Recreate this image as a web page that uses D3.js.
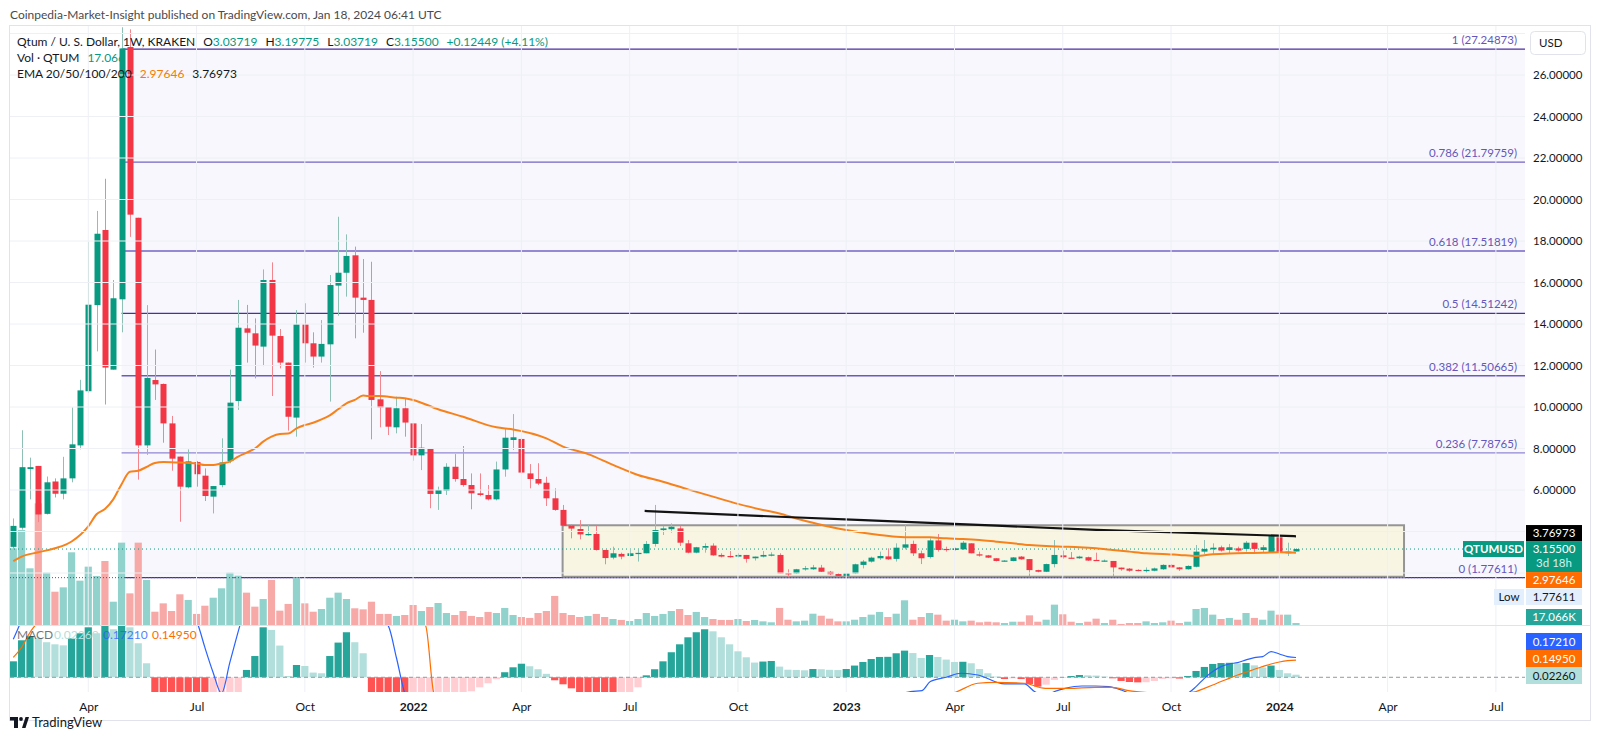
<!DOCTYPE html>
<html><head><meta charset="utf-8">
<script src="https://cdn.jsdelivr.net/npm/d3@7"></script>
<style>
html,body{margin:0;padding:0;background:#fff;}
svg{display:block;font-family:Lato,"Noto Sans",sans-serif;}
</style></head><body>
<svg id="c" width="1600" height="755"></svg>
<script>
// ---------------- DATA ----------------
const startDate = new Date(Date.UTC(2021,1,1)); // first weekly bar (Mon)
const openP = [3.26,4.18,7.01,7.16,4.85,6.41,5.82,6.56,8.15,10.76,
14.91,18.53,11.80,15.19,27.35,19.12,8.15,11.30,11.11,9.21,
7.61,6.13,7.35,6.69,5.68,6.24,7.40,10.29,13.79,13.55,
12.91,16.12,13.42,12.14,9.49,13.98,13.07,12.43,13.02,15.85,
16.47,17.31,15.27,15.16,10.37,10.0,9.02,9.94,9.21,7.67,
8.01,5.81,5.97,7.12,6.53,6.24,5.84,5.76,5.55,6.99,
8.41,8.46,6.80,6.53,6.35,5.60,5.04,4.28,4.12,3.82,
3.88,3.11,2.74,2.92,2.82,2.94,2.95,3.40,4.07,4.11,
4.15,3.43,2.98,3.22,3.32,2.87,2.82,2.79,2.87,2.71,
2.79,2.85,2.87,1.99,1.98,2.18,2.18,2.26,2.06,1.95,
1.86,1.98,2.39,2.55,2.71,2.80,2.68,3.22,3.40,2.95,
2.77,3.57,3.16,3.11,3.14,3.43,2.90,2.85,2.71,2.58,
2.58,2.79,2.67,2.14,2.06,2.43,2.85,2.74,2.71,2.76,
2.63,2.60,2.58,2.26,2.21,2.15,2.13,2.11,2.18,2.39,
2.27,2.18,2.30,3.03,3.14,3.24,3.11,3.19,3.16,3.46,
3.11,3.01,3.72,2.95,3.03719];
const highP = [4.63,8.88,7.56,7.16,6.65,6.56,7.60,9.98,11.31,17.95,
19.45,21.0,16.12,28.3,28.2,19.12,14.91,12.77,11.13,9.57,
7.61,7.96,7.40,7.04,6.19,8.49,11.8,15.16,14.92,14.27,
16.63,16.97,13.76,12.14,14.67,15.0,13.6,14.19,16.36,19.17,
18.32,17.73,17.13,17.0,11.73,10.0,10.5,10.42,9.21,9.18,
8.01,6.16,7.29,7.73,8.12,6.80,6.80,6.24,7.37,8.97,
9.66,8.50,7.25,7.29,6.64,6.08,5.28,4.35,4.55,4.31,
4.27,3.11,3.27,2.98,3.14,3.11,3.54,5.28,4.27,4.39,
4.27,3.59,3.26,3.43,3.43,2.95,3.06,2.95,2.87,2.79,
3.06,3.0,2.95,2.18,2.20,2.34,2.39,2.39,2.10,2.0,
2.0,2.45,2.63,2.79,3.03,3.19,3.43,4.31,3.56,3.08,
3.67,3.88,3.27,3.22,3.54,3.43,3.03,2.87,2.71,2.62,
2.77,2.82,2.67,2.16,2.45,3.59,3.08,3.01,2.83,2.79,
2.98,2.65,2.58,2.26,2.24,2.18,2.27,2.26,2.42,2.42,
2.29,2.37,3.35,3.59,3.43,3.32,3.40,3.27,3.54,3.46,
3.35,3.83,3.83,3.46,3.19775];
const lowP = [3.17,4.09,5.55,4.45,4.82,5.64,5.55,6.37,7.96,10.67,
12.68,10.12,11.80,13.6,18.2,6.50,7.69,10.34,8.28,6.93,
4.47,6.08,6.16,5.47,4.87,6.13,7.29,9.86,12.14,11.38,
11.97,10.53,11.86,8.86,8.57,12.14,11.9,12.14,10.26,14.40,
15.32,13.31,13.58,8.44,9.02,8.65,8.73,8.57,7.41,6.96,
5.12,5.04,5.76,6.40,6.16,5.07,5.70,5.50,5.50,6.64,
7.93,6.80,6.08,6.24,5.23,5.00,4.23,3.67,3.62,3.80,
3.08,2.42,2.66,2.66,2.80,2.55,2.95,3.27,3.83,3.94,
3.30,2.95,2.95,2.98,2.83,2.75,2.74,2.75,2.50,2.60,
2.75,2.80,1.98,1.82,1.95,2.11,2.15,2.05,1.90,1.84,
1.84,1.95,2.22,2.50,2.63,2.63,2.55,3.14,2.82,2.43,
2.70,3.03,3.03,3.08,3.11,2.95,2.79,2.72,2.56,2.55,
2.56,2.64,1.85,2.02,2.04,2.27,2.69,2.70,2.68,2.58,
2.58,2.55,1.85,2.11,2.06,2.08,2.01,2.08,2.15,2.26,
2.10,2.16,2.27,2.92,2.92,3.03,2.92,3.03,3.03,2.95,
2.98,2.98,2.71,2.82,3.03719];
const closeP = [4.27,7.10,7.10,4.82,6.37,5.82,6.56,8.20,10.80,14.93,
18.35,11.90,15.24,27.28,19.27,8.15,11.40,11.09,9.21,7.51,
6.16,7.38,6.76,5.71,6.19,7.33,10.21,13.82,13.58,12.96,
16.12,13.44,12.14,9.53,13.98,13.07,12.43,13.04,15.88,16.47,
17.28,15.27,15.16,10.34,9.98,9.05,9.94,9.25,7.67,8.04,
5.81,6.0,7.12,6.53,6.24,5.84,5.76,5.55,6.99,8.52,
8.54,6.84,6.53,6.31,5.60,5.04,4.28,4.14,3.86,3.88,
3.11,2.72,2.95,2.79,2.95,2.97,3.40,4.07,4.15,4.23,
3.46,2.98,3.24,3.30,2.85,2.79,2.76,2.87,2.68,2.79,
2.87,2.89,1.98,1.96,2.18,2.23,2.27,2.06,1.94,1.86,
1.98,2.42,2.55,2.74,2.82,2.66,3.22,3.38,2.95,2.71,
3.57,3.11,3.14,3.19,3.46,2.95,2.84,2.74,2.58,2.60,
2.75,2.66,2.14,2.06,2.43,2.87,2.76,2.71,2.79,2.60,
2.60,2.60,2.27,2.18,2.11,2.13,2.15,2.22,2.39,2.27,
2.18,2.34,3.03,3.16,3.22,3.08,3.24,3.08,3.46,3.16,
3.24,3.80,3.01,3.03,3.155];
const volumeK = [652,808,482,1034,445,283,320,618,377,496,
417,544,198,700,269,700,383,113,184,119,
261,213,94,164,232,312,445,419,275,156,
221,383,122,179,405,184,113,136,232,275,
221,142,133,198,94,94,77,85,170,119,
153,187,102,85,119,77,68,111,102,145,
85,68,60,102,119,247,102,85,68,77,
94,68,51,43,34,51,102,77,94,119,
136,85,111,68,51,43,43,51,34,43,
31,23,145,45,31,37,96,79,54,31,
31,45,68,88,111,68,96,210,45,68,
102,88,37,45,31,37,23,28,23,17,
28,28,82,28,45,173,91,28,17,28,
54,17,45,9,17,17,31,17,23,37,
17,28,136,145,88,51,60,45,102,60,
45,122,88,88,17.066];
const macdHist = [0.139,0.322,0.357,0.339,0.305,0.287,0.278,0.339,0.383,0.435,
0.383,0.452,0.418,0.487,0.435,0.296,0.122,-0.174,-0.261,-0.348,
-0.418,-0.479,-0.505,-0.522,-0.435,-0.348,-0.244,-0.139,0.064,0.185,
0.435,0.412,0.276,0.011,0.107,0.098,0.041,0.035,0.185,0.302,
0.392,0.305,0.209,-0.139,-0.218,-0.278,-0.331,-0.365,-0.348,-0.313,
-0.278,-0.244,-0.209,-0.174,-0.148,-0.122,-0.087,-0.052,-0.017,0.044,
0.087,0.118,0.096,0.070,0.030,-0.026,-0.061,-0.096,-0.131,-0.165,
-0.191,-0.218,-0.235,-0.209,-0.157,-0.087,0.017,0.070,0.139,0.218,
0.287,0.348,0.392,0.418,0.400,0.348,0.287,0.226,0.174,0.128,
0.137,0.142,0.093,0.066,0.064,0.061,0.072,0.070,0.065,0.063,
0.072,0.102,0.133,0.159,0.177,0.178,0.209,0.232,0.211,0.168,
0.194,0.177,0.154,0.133,0.135,0.122,0.072,0.035,0.006,-0.015,
-0.009,-0.015,-0.058,-0.081,-0.064,-0.023,-0.006,0.011,0.020,0.017,
0.015,0.006,-0.009,-0.032,-0.041,-0.044,-0.043,-0.032,-0.015,-0.009,
-0.011,0.011,0.055,0.090,0.116,0.124,0.126,0.119,0.124,0.104,
0.084,0.102,0.064,0.035,0.0226];
// [bar index, value]
const macdLine = [[0,0.33],[1,0.50],[2,0.70],[5,0.96],[10,1.22],[15,1.39],[19,0.87],[21,0.61],[22.2,0.45],[23,0.26],[24,0.04],[25,-0.14],[26,0.13],[27.2,0.45],[28,0.65],[32,0.78],[38,0.70],[42,0.61],[45,0.45],[46,0.17],[47,-0.14],[48,-0.26],[60,-0.35],[80,-0.26],[100,-0.22],[106,-0.157],[107.7,-0.124],[109.1,-0.116],[110.1,-0.037],[112,0],[113.8,0.035],[115.8,0.02],[119,-0.058],[121.4,-0.058],[122.6,-0.124],[124,-0.157],[125,-0.124],[126.3,-0.096],[128.3,-0.076],[129.9,-0.076],[131.5,-0.081],[133,-0.11],[134,-0.139],[137,-0.174],[140,-0.157],[141,-0.139],[142,-0.081],[143,-0.009],[144,0.05],[145,0.093],[146,0.116],[147,0.128],[148,0.151],[149,0.171],[150,0.18],[151,0.224],[152,0.203],[153,0.18],[154,0.1721]];
const signalLine = [[0,0.174],[1,0.261],[2,0.39],[2.6,0.45],[5,0.70],[10,0.96],[20,1.04],[30,0.78],[40,0.70],[48,0.52],[49.5,0.45],[50.5,-0.14],[52,-0.26],[70,-0.35],[100,-0.26],[110,-0.174],[112.8,-0.139],[115.8,-0.052],[117.8,-0.044],[121.4,-0.052],[123.9,-0.096],[126.7,-0.096],[129.9,-0.087],[131.9,-0.087],[133.9,-0.116],[137.2,-0.139],[139,-0.148],[141,-0.135],[142,-0.124],[143,-0.096],[144,-0.067],[145,-0.037],[146,-0.009],[147,0.02],[148,0.044],[149,0.07],[150,0.093],[151,0.116],[152,0.133],[153,0.145],[154,0.1495]];
const emaOrange = [[0,2.57],[1,2.79],[3,3.0],[5,3.19],[7,3.52],[9,4.25],[10,4.83],[11,5.08],[12,5.55],[13,6.28],[14,6.88],[15,6.93],[16,7.11],[17,7.30],[18,7.35],[20,7.32],[22,7.28],[23,7.2],[24,7.2],[25,7.28],[26,7.37],[27,7.61],[28,7.8],[29,8.0],[30,8.33],[31,8.57],[32,8.7],[33,8.72],[34,8.97],[35,9.13],[36,9.24],[37,9.4],[38,9.6],[39,9.89],[40,10.18],[41,10.34],[42,10.55],[43,10.52],[44,10.53],[46,10.45],[47,10.42],[48,10.34],[51,9.89],[54,9.53],[58,9.02],[60,8.92],[64,8.49],[66,8.09],[69,7.73],[72,7.21],[75,6.72],[78,6.40],[81,6.03],[84,5.68],[87,5.33],[90,5.04],[92,4.87],[94,4.63],[96,4.42],[98,4.23],[100,4.07],[102,3.94],[104,3.83],[106,3.75],[108,3.72],[110,3.72],[112,3.67],[114,3.64],[116,3.59],[118,3.51],[120,3.43],[122,3.35],[124,3.30],[126,3.27],[128,3.24],[130,3.19],[132,3.11],[134,3.03],[136,2.95],[138,2.92],[140,2.87],[142,2.82],[144,2.90],[146,2.94],[148,2.96],[150,2.97],[152,3.0],[154,2.97646]];
const emaBlack = [[75.8,4.99],[92,4.71],[110,4.42],[130,4.08],[154,3.76973]];
const fibLevels = [1,0.786,0.618,0.5,0.382,0.236,0];
const fibPrices = [27.24873,21.79759,17.51819,14.51242,11.50665,7.78765,1.77611];
const fibStartBar = 13;
const boxRange = {fromBar:65.95, toBar:166.97, top:4.30, bottom:1.82};
const priceTicks = [6,8,10,12,14,16,18,20,22,24,26];
const timeTickMonths = ["2021-04","2021-07","2021-10","2022-01","2022-04","2022-07","2022-10","2023-01","2023-04","2023-07","2023-10","2024-01","2024-04","2024-07"];
const timeTickLabels = ["Apr","Jul","Oct","2022","Apr","Jul","Oct","2023","Apr","Jul","Oct","2024","Apr","Jul"];
const lastClose = 3.155, lowPrice = 1.77611;

// ---------------- STYLES / LAYOUT ----------------
const UP="#089981", DN="#f23645", UPW="#8fc0b5", DNW="#f2858e";
const VUP="#92d2cc", VDN="#f7a9a7";
const fibColors = ["#4a2fa3","#7464c4","#7464c4","#4a2fa3","#6a59c0","#9287d2","#4a2fa3"];
const PL=10, PR=1525, PT=25, PB=625, MT=625, MB=692;
const WEEK = 7*864e5;
const n = openP.length;
const dates = openP.map((d,i)=>d3.utcWeek.offset(startDate,i));

const svg = d3.select("#c");
const x = d3.scaleTime().domain([dates[0], dates[n-1]]).range([13.3, 1296]);
const xi = i => x(new Date(+startDate + i*WEEK));
const yP = d3.scaleLinear().domain([6,26]).range([490,75]);
const yV = d3.scaleLinear().domain([0,850]).range([625,525]);
const yM = d3.scaleLinear().domain([-0.128,0.455]).range([692,625]);

const defs = svg.append("defs");
defs.append("clipPath").attr("id","cm").append("rect").attr("x",PL).attr("y",PT).attr("width",PR-PL).attr("height",PB-PT);
defs.append("clipPath").attr("id","cmacd").append("rect").attr("x",PL).attr("y",MT).attr("width",PR-PL).attr("height",MB-MT);

svg.append("rect").attr("width",1600).attr("height",755).attr("fill","#fff");

// title
svg.append("text").attr("x",10).attr("y",19).attr("font-size",12).attr("fill","#4a4a4a")
  .text("Coinpedia-Market-Insight published on TradingView.com, Jan 18, 2024 06:41 UTC");

// fib shading
const main = svg.append("g").attr("clip-path","url(#cm)");
main.append("rect").attr("x",xi(fibStartBar)).attr("y",yP(fibPrices[0])).attr("width",PR-xi(fibStartBar))
  .attr("height",yP(fibPrices[6])-yP(fibPrices[0])).attr("fill","#f7f7fd");

// time ticks
const tickDates = timeTickMonths.map(s=>{const [y,m]=s.split("-").map(Number);return d3.utcMonday.ceil(new Date(Date.UTC(y,m-1,1)));});
const grid = svg.append("g");
tickDates.forEach(d=>{
  grid.append("line").attr("x1",x(d)).attr("x2",x(d)).attr("y1",PT).attr("y2",MB).attr("stroke","#eef0f5").attr("stroke-width",1);
});
priceTicks.concat([2,4,28]).forEach(v=>{
  grid.append("line").attr("x1",PL).attr("x2",PR).attr("y1",yP(v)).attr("y2",yP(v)).attr("stroke","#eef0f5");
});

// fib lines
fibPrices.forEach((p,k)=>{
  main.append("line").attr("x1",xi(fibStartBar)).attr("x2",PR).attr("y1",yP(p)).attr("y2",yP(p))
    .attr("stroke",fibColors[k]).attr("stroke-width",1.3);
  svg.append("text").attr("x",1517).attr("y",yP(p)-5).attr("text-anchor","end").attr("font-size",11.5)
    .attr("fill","#6457bb").text(`${fibLevels[k]} (${p.toFixed(5)})`);
});

// box
main.append("rect").attr("x",xi(boxRange.fromBar)).attr("y",yP(boxRange.top))
  .attr("width",xi(boxRange.toBar)-xi(boxRange.fromBar)).attr("height",yP(boxRange.bottom)-yP(boxRange.top))
  .attr("fill","#f9f5e3").attr("stroke","#959595").attr("stroke-width",2);

// legend text (flowing segments)
const lg = svg.append("g").attr("font-size",12);
function flow(x0, y, segs){
  let cx = x0;
  segs.forEach(([txt,col,gap])=>{
    cx += gap||0;
    const t = lg.append("text").attr("x",cx).attr("y",y).attr("fill",col).text(txt);
    cx += t.node().getComputedTextLength();
  });
}
const DK="#131722";
flow(17,45.5,[["Qtum / U. S. Dollar, 1W, KRAKEN",DK],["O",DK,8],["3.03719",UP],["H",DK,8],["3.19775",UP],["L",DK,8],["3.03719",UP],["C",DK,8],["3.15500",UP],["+0.12449 (+4.11%)",UP,8]]);
flow(17,62,[["Vol · QTUM",DK],["17.066",UP,8]]);
flow(17,78,[["EMA 20/50/100/200",DK],["2.97646","#f57c00",8],["3.76973",DK,8]]);

// volume
const idx = d3.range(n);
main.append("g").selectAll("rect").data(idx).join("rect")
  .attr("x",i=>x(dates[i])-3.6).attr("width",7.2)
  .attr("y",i=>yV(volumeK[i])).attr("height",i=>yV(0)-yV(volumeK[i]))
  .attr("fill",i=>closeP[i]>=openP[i]?VUP:VDN);

// dotted lines
main.append("line").attr("x1",PL).attr("x2",PR).attr("y1",yP(lowPrice)).attr("y2",yP(lowPrice))
  .attr("stroke","#5a4a9a").attr("stroke-dasharray","1,2");
main.append("line").attr("x1",PL).attr("x2",PR).attr("y1",yP(lastClose)).attr("y2",yP(lastClose))
  .attr("stroke",UP).attr("stroke-dasharray","1,3");

// candles
const cg = main.append("g");
cg.selectAll("line").data(idx).join("line")
  .attr("x1",i=>Math.round(x(dates[i]))+0.5).attr("x2",i=>Math.round(x(dates[i]))+0.5)
  .attr("y1",i=>yP(highP[i])).attr("y2",i=>yP(lowP[i]))
  .attr("stroke",i=>closeP[i]>=openP[i]?UPW:DNW).attr("stroke-width",1);
cg.selectAll("rect").data(idx).join("rect")
  .attr("x",i=>Math.round(x(dates[i]))+0.5-3).attr("width",6)
  .attr("y",i=>yP(Math.max(openP[i],closeP[i])))
  .attr("height",i=>Math.max(1.2,Math.abs(yP(openP[i])-yP(closeP[i]))))
  .attr("fill",i=>closeP[i]>=openP[i]?UP:DN);

// EMA lines
const lineP = d3.line().x(d=>xi(d[0])).y(d=>yP(d[1])).curve(d3.curveMonotoneX);
main.append("path").attr("d",lineP(emaOrange)).attr("fill","none").attr("stroke","#f7821b").attr("stroke-width",2);
main.append("path").attr("d",lineP(emaBlack)).attr("fill","none").attr("stroke","#131313").attr("stroke-width",2.2);

// MACD pane
const mg = svg.append("g").attr("clip-path","url(#cmacd)");
mg.selectAll("rect").data(idx).join("rect")
  .attr("x",i=>x(dates[i])-3.6).attr("width",7.2)
  .attr("y",i=>yM(Math.max(0,macdHist[i]))).attr("height",i=>Math.abs(yM(macdHist[i])-yM(0)))
  .attr("fill",i=>{const v=macdHist[i], p=i>0?macdHist[i-1]:0;
    return v>=0 ? (v>=p?"#26a69a":"#b2dfdb") : (v<p?"#ff5252":"#ffcdd2");});
mg.append("line").attr("x1",PL).attr("x2",PR).attr("y1",yM(0)).attr("y2",yM(0))
  .attr("stroke","#9598a1").attr("stroke-dasharray","4,3");
const lineM = d3.line().x(d=>xi(d[0])).y(d=>yM(d[1])).curve(d3.curveMonotoneX);
mg.append("path").attr("d",lineM(macdLine)).attr("fill","none").attr("stroke","#2962ff").attr("stroke-width",1.2);
mg.append("path").attr("d",lineM(signalLine)).attr("fill","none").attr("stroke","#ff6d00").attr("stroke-width",1.2);
svg.append("text").attr("x",17).attr("y",639).attr("font-size",12).attr("fill","#131722").attr("opacity",0.6).text("MACD");
svg.append("text").attr("x",54).attr("y",639).attr("font-size",12).attr("fill","#b2dfdb").text("0.02260");
svg.append("text").attr("x",103).attr("y",639).attr("font-size",12).attr("fill","#2962ff").attr("opacity",0.8).text("0.17210");
svg.append("text").attr("x",152).attr("y",639).attr("font-size",12).attr("fill","#ff6d00").text("0.14950");

// separators / frame
svg.append("line").attr("x1",PL).attr("x2",1590).attr("y1",PB+0.5).attr("y2",PB+0.5).attr("stroke","#e0e3eb");
svg.append("rect").attr("x",9.5).attr("y",25.5).attr("width",1581).attr("height",695).attr("fill","none").attr("stroke","#e0e3eb");

// price axis
const pa = svg.append("g").attr("transform",`translate(${PR+2},0)`)
  .call(d3.axisRight(yP).tickValues(priceTicks).tickSize(0).tickPadding(6).tickFormat(d3.format(".5f")));
pa.select(".domain").remove();
pa.selectAll("text").attr("font-size",11.5).attr("fill","#131722").attr("font-family","Lato");

// time axis
const ta = svg.append("g").attr("transform",`translate(0,${MB+3})`)
  .call(d3.axisBottom(x).tickValues(tickDates).tickSize(0).tickPadding(7)
    .tickFormat((d,k)=>timeTickLabels[k]));
ta.select(".domain").remove();
ta.selectAll("text").attr("font-size",12).attr("fill","#131722").attr("font-family","Lato")
  .attr("font-weight",(d,k)=>/^\d/.test(timeTickLabels[k])?"bold":"normal");

// USD box
svg.append("rect").attr("x",1530.5).attr("y",31.5).attr("width",55).attr("height",23).attr("rx",4)
  .attr("fill","#fff").attr("stroke","#e0e3eb");
svg.append("text").attr("x",1539).attr("y",47).attr("font-size",11.5).attr("fill","#131722").text("USD");

// value labels on axis
function lab(y0,h,bg,fg,txt,x0=1526,w=56,bold=false){
  svg.append("rect").attr("x",x0).attr("y",y0).attr("width",w).attr("height",h).attr("fill",bg);
  svg.append("text").attr("x",x0+w/2).attr("y",y0+h/2+4).attr("text-anchor","middle")
    .attr("font-size",11.5).attr("fill",fg).attr("font-weight",bold?"bold":"normal").text(txt);
}
const yLast = yP(lastClose);
lab(yLast-24,16,"#000","#fff","3.76973");
svg.append("rect").attr("x",1526).attr("y",yLast-8).attr("width",56).attr("height",31).attr("fill",UP);
svg.append("text").attr("x",1554).attr("y",yLast+4).attr("text-anchor","middle").attr("font-size",11.5).attr("fill","#fff").text("3.15500");
svg.append("text").attr("x",1554).attr("y",yLast+18).attr("text-anchor","middle").attr("font-size",11.5).attr("fill","#d6f0ea").text("3d 18h");
lab(yLast-8,16,UP,"#fff","QTUMUSD",1463,61,true);
lab(yLast+23,16,"#ff6d00","#fff","2.97646");
lab(yLast+40,16,"#e3effd","#131722","1.77611");
lab(yLast+40,16,"#e3effd","#131722","Low",1494,30);
lab(609,16,"#26a69a","#fff","17.066K");
lab(633,17,"#2962ff","#fff","0.17210");
lab(650,17,"#ff6d00","#fff","0.14950");
lab(667,17,"#b2dfdb","#131722","0.02260");

// TradingView logo
const lgo = svg.append("g").attr("fill","#131722");
lgo.append("rect").attr("x",10).attr("y",717).attr("width",8).attr("height",3.5);
lgo.append("rect").attr("x",14).attr("y",717).attr("width",4).attr("height",11);
lgo.append("circle").attr("cx",21).attr("cy",719).attr("r",1.9);
lgo.append("polygon").attr("points","22,728 25.5,717 29,717 25.5,728");
svg.append("text").attr("x",32).attr("y",727).attr("font-size",13).attr("fill","#131722").text("TradingView");
</script>
</body></html>
